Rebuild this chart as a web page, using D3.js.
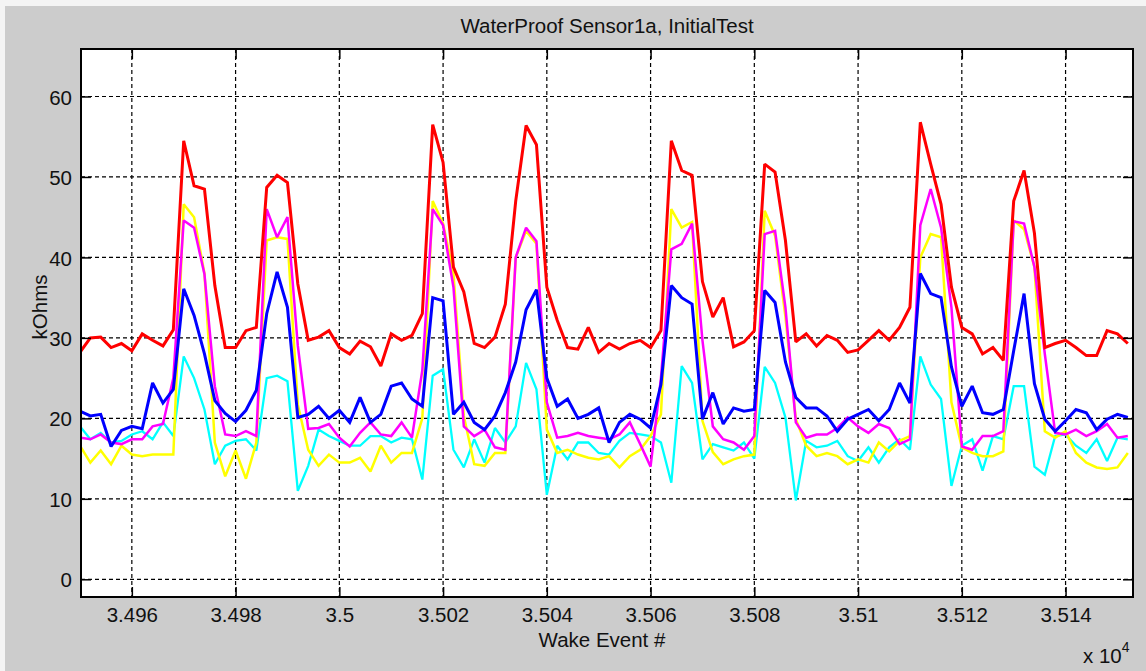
<!DOCTYPE html>
<html>
<head>
<meta charset="utf-8">
<script src="https://cdn.jsdelivr.net/npm/d3@7"></script>
<style>
  body { margin: 0; background: #f4f4f4; }
  text { font-family: "Liberation Sans", Arial, sans-serif; fill: #111; }
</style>
</head>
<body>
<div id="chart"></div>
<script>
// samples every 2 wake events, starting at 34950
const xStart = 34950, xStep = 2;

const red = [28.2, 30.0, 30.1, 28.8, 29.3, 28.4, 30.5, 29.7, 29.0, 31.0,
  54.5, 48.9, 48.5, 36.5, 28.8, 28.8, 30.9, 31.3, 48.7, 50.2,
  49.3, 36.7, 29.7, 30.1, 30.9, 28.8, 28.0, 29.6, 28.9, 26.5,
  30.5, 29.7, 30.3, 33.0, 56.5, 51.8, 38.8, 35.7, 29.3, 28.8,
  30.1, 34.2, 47.0, 56.4, 54.0, 36.3, 32.2, 28.8, 28.6, 31.3,
  28.2, 29.3, 28.6, 29.3, 29.7, 28.8, 30.9, 54.5, 50.8, 50.2,
  37.0, 32.6, 35.0, 28.9, 29.5, 30.9, 51.6, 50.6, 42.1, 29.5,
  30.5, 29.0, 30.3, 29.7, 28.2, 28.5, 29.7, 30.9, 29.7, 31.3,
  33.8, 56.8, 51.6, 46.6, 36.3, 31.3, 30.5, 28.0, 28.8, 27.2,
  47.0, 50.8, 43.0, 28.8, 29.3, 29.7, 28.8, 27.8, 27.8, 30.9,
  30.5, 29.3];

const blue = [20.9, 20.3, 20.5, 16.5, 18.5, 19.0, 18.7, 24.4, 21.9, 23.6,
  36.1, 32.8, 28.0, 22.2, 20.6, 19.6, 21.0, 23.5, 33.0, 38.2,
  33.8, 20.1, 20.5, 21.5, 20.0, 21.0, 19.5, 22.6, 19.5, 20.5,
  24.0, 24.4, 22.4, 21.5, 35.0, 34.6, 20.5, 22.0, 19.5, 18.6,
  20.3, 23.2, 27.0, 33.5, 36.0, 25.0, 21.5, 22.4, 20.0, 20.5,
  21.3, 17.0, 19.5, 20.5, 19.9, 18.8, 24.2, 36.5, 35.0, 34.2,
  19.9, 23.2, 19.3, 21.3, 20.9, 21.1, 35.9, 34.4, 27.0, 22.6,
  21.3, 21.3, 20.3, 18.4, 19.9, 20.5, 21.1, 19.7, 21.1, 24.4,
  21.9, 38.0, 35.5, 35.0, 26.4, 21.5, 24.0, 20.7, 20.5, 21.1,
  28.4, 35.5, 24.3, 19.9, 18.4, 19.7, 21.1, 20.7, 18.6, 19.9,
  20.5, 20.1];

const magenta = [17.6, 17.4, 18.0, 17.0, 16.8, 17.4, 17.4, 19.0, 19.3, 25.0,
  44.6, 43.7, 37.9, 24.0, 18.0, 17.8, 18.4, 17.8, 46.0, 42.5,
  45.0, 29.0, 18.7, 18.8, 19.3, 17.6, 16.5, 18.2, 19.5, 18.0,
  17.8, 19.5, 17.6, 26.0, 46.0, 44.0, 36.3, 19.0, 17.8, 18.6,
  16.4, 16.1, 40.0, 43.7, 42.0, 22.0, 17.6, 17.8, 18.2, 17.8,
  17.6, 17.4, 18.0, 19.5, 16.8, 14.0, 25.0, 41.0, 41.7, 44.2,
  29.7, 19.0, 17.4, 17.0, 16.1, 17.8, 42.9, 43.3, 33.8, 19.5,
  17.6, 18.0, 18.0, 18.8, 20.1, 19.0, 18.2, 19.3, 18.8, 16.8,
  17.4, 44.0, 48.5, 43.7, 33.8, 16.5, 16.1, 17.8, 17.8, 18.4,
  44.5, 44.2, 38.8, 28.0, 18.2, 18.0, 18.6, 17.8, 18.4, 19.3,
  17.6, 17.8];

const yellow = [16.6, 14.5, 16.0, 14.3, 16.6, 15.5, 15.3, 15.5, 15.5, 15.5,
  46.6, 45.0, 38.0, 17.0, 12.8, 16.0, 12.5, 17.0, 42.1, 42.5,
  42.3, 21.7, 16.1, 14.1, 15.5, 14.5, 14.5, 15.1, 13.4, 16.6,
  14.5, 15.7, 15.7, 20.0, 47.0, 44.2, 38.0, 20.3, 14.3, 14.1,
  15.7, 15.7, 40.0, 43.3, 41.7, 18.6, 15.7, 16.1, 15.5, 15.1,
  14.9, 15.3, 13.9, 15.3, 16.1, 17.8, 20.5, 46.0, 43.7, 44.4,
  19.7, 15.8, 14.3, 14.9, 15.3, 15.5, 45.8, 42.7, 32.6, 19.9,
  16.6, 15.3, 15.7, 15.3, 14.3, 14.9, 14.5, 17.0, 15.9, 17.2,
  17.8, 40.0, 42.9, 42.5, 22.0, 16.4, 15.7, 15.3, 15.3, 15.9,
  44.6, 43.5, 38.8, 18.4, 17.6, 18.4, 15.7, 14.5, 13.9, 13.7,
  13.9, 15.7];

const cyan = [19.0, 17.4, 18.2, 17.0, 17.2, 18.0, 18.4, 17.4, 19.5, 17.8,
  27.7, 25.0, 21.1, 14.3, 16.6, 17.2, 17.4, 16.0, 25.0, 25.3,
  24.6, 11.0, 14.1, 18.6, 17.8, 17.2, 16.6, 16.6, 17.8, 17.8,
  17.0, 17.6, 17.4, 12.4, 25.3, 26.1, 16.1, 13.9, 17.4, 14.5,
  18.8, 17.0, 19.0, 26.9, 23.6, 10.5, 16.6, 14.9, 17.0, 17.0,
  15.7, 15.5, 17.2, 18.2, 18.0, 17.8, 17.0, 12.0, 26.5, 24.4,
  14.9, 16.8, 16.4, 16.0, 17.0, 15.0, 26.4, 24.4, 20.1, 9.8,
  17.2, 16.4, 16.6, 17.2, 15.3, 14.7, 16.4, 14.5, 16.4, 17.4,
  16.1, 27.7, 24.2, 22.4, 11.6, 16.6, 17.4, 13.5, 17.8, 17.4,
  24.0, 24.0, 14.0, 13.0, 17.8, 18.0, 16.6, 15.7, 17.4, 14.7,
  17.6, 17.4];

const xTicks = [34960, 34980, 35000, 35020, 35040, 35060, 35080, 35100, 35120, 35140];
const xTickLabels = ["3.496", "3.498", "3.5", "3.502", "3.504", "3.506", "3.508", "3.51", "3.512", "3.514"];
const yTicks = [0, 10, 20, 30, 40, 50, 60];

const wakeEvents = red.map((_, i) => xStart + i * xStep);

const W = 1146, H = 671;
const box = { left: 81, top: 49, right: 1133, bottom: 597 };

const svg = d3.select("#chart").append("svg")
    .attr("width", W).attr("height", H);

// figure background (window edge strip left/top stays light)
svg.append("rect").attr("x", 5).attr("y", 6)
    .attr("width", W - 5).attr("height", H - 6).attr("fill", "#cccccc");

const x = d3.scaleLinear().domain([34950.2, 35153]).range([box.left, box.right]);
const y = d3.scaleLinear().domain([-2.2, 65.9]).range([box.bottom, box.top]);

svg.append("rect")
    .attr("x", box.left).attr("y", box.top)
    .attr("width", box.right - box.left).attr("height", box.bottom - box.top)
    .attr("fill", "#fff");

// dashed grid
const grid = svg.append("g").attr("stroke", "#000").attr("stroke-width", 1.2)
    .attr("stroke-dasharray", "4,3");
grid.selectAll(".vg").data(xTicks).join("line")
    .attr("x1", d => x(d)).attr("x2", d => x(d))
    .attr("y1", box.top).attr("y2", box.bottom);
grid.selectAll(".hg").data(yTicks).join("line")
    .attr("x1", box.left).attr("x2", box.right)
    .attr("y1", d => y(d)).attr("y2", d => y(d));

// series
svg.append("clipPath").attr("id", "clip").append("rect")
    .attr("x", box.left).attr("y", box.top)
    .attr("width", box.right - box.left).attr("height", box.bottom - box.top);

const series = [
    { name: "cyan", values: cyan, color: "#00ffff", width: 2.3 },
    { name: "yellow", values: yellow, color: "#ffff00", width: 2.5 },
    { name: "magenta", values: magenta, color: "#ff00ff", width: 2.5 },
    { name: "blue", values: blue, color: "#0000ff", width: 3 },
    { name: "red", values: red, color: "#ff0000", width: 3 }
];

const line = d3.line().x((d, i) => x(wakeEvents[i])).y(d => y(d));

svg.append("g").attr("clip-path", "url(#clip)")
    .selectAll("path").data(series).join("path")
    .attr("d", d => line(d.values))
    .attr("fill", "none")
    .attr("stroke", d => d.color)
    .attr("stroke-width", d => d.width)
    .attr("stroke-linejoin", "miter")
    .attr("stroke-miterlimit", 2);

// axes, ticks pointing inward on all four sides
const fontSize = "20.5px";
const xAxis = svg.append("g").attr("transform", `translate(0,${box.bottom})`)
    .call(d3.axisBottom(x).tickValues(xTicks).tickFormat((d, i) => xTickLabels[i])
        .tickSizeInner(-10).tickSizeOuter(0).tickPadding(10.5));
const yAxis = svg.append("g").attr("transform", `translate(${box.left},0)`)
    .call(d3.axisLeft(y).tickValues(yTicks).tickSizeInner(-10).tickSizeOuter(0).tickPadding(9));
svg.append("g").attr("transform", `translate(0,${box.top})`)
    .call(d3.axisTop(x).tickValues(xTicks).tickFormat("").tickSizeInner(-10).tickSizeOuter(0));
svg.append("g").attr("transform", `translate(${box.right},0)`)
    .call(d3.axisRight(y).tickValues(yTicks).tickFormat("").tickSizeInner(-10).tickSizeOuter(0));

svg.selectAll(".domain").remove();
svg.selectAll(".tick line").attr("stroke", "#000").attr("stroke-width", 1.5);
svg.selectAll(".tick text").attr("font-size", fontSize)
    .attr("font-family", "Liberation Sans, Arial, sans-serif").attr("fill", "#111");
yAxis.selectAll(".tick text").attr("dy", "0.37em");

svg.append("rect")
    .attr("x", box.left).attr("y", box.top)
    .attr("width", box.right - box.left).attr("height", box.bottom - box.top)
    .attr("fill", "none").attr("stroke", "#000").attr("stroke-width", 2);

// labels
svg.append("text").attr("x", (box.left + box.right) / 2).attr("y", 33)
    .attr("text-anchor", "middle").attr("font-size", fontSize)
    .text("WaterProof Sensor1a, InitialTest");

svg.append("text").attr("x", 602).attr("y", 647)
    .attr("text-anchor", "middle").attr("font-size", fontSize)
    .text("Wake Event #");

svg.append("text")
    .attr("transform", "translate(47,307) rotate(-90)")
    .attr("text-anchor", "middle").attr("font-size", fontSize)
    .text("kOhms");

const mult = svg.append("text").attr("x", 1083).attr("y", 663).attr("font-size", fontSize);
mult.append("tspan").text("x 10");
mult.append("tspan").attr("dy", -11).attr("font-size", "14px").text("4");
</script>
</body>
</html>
